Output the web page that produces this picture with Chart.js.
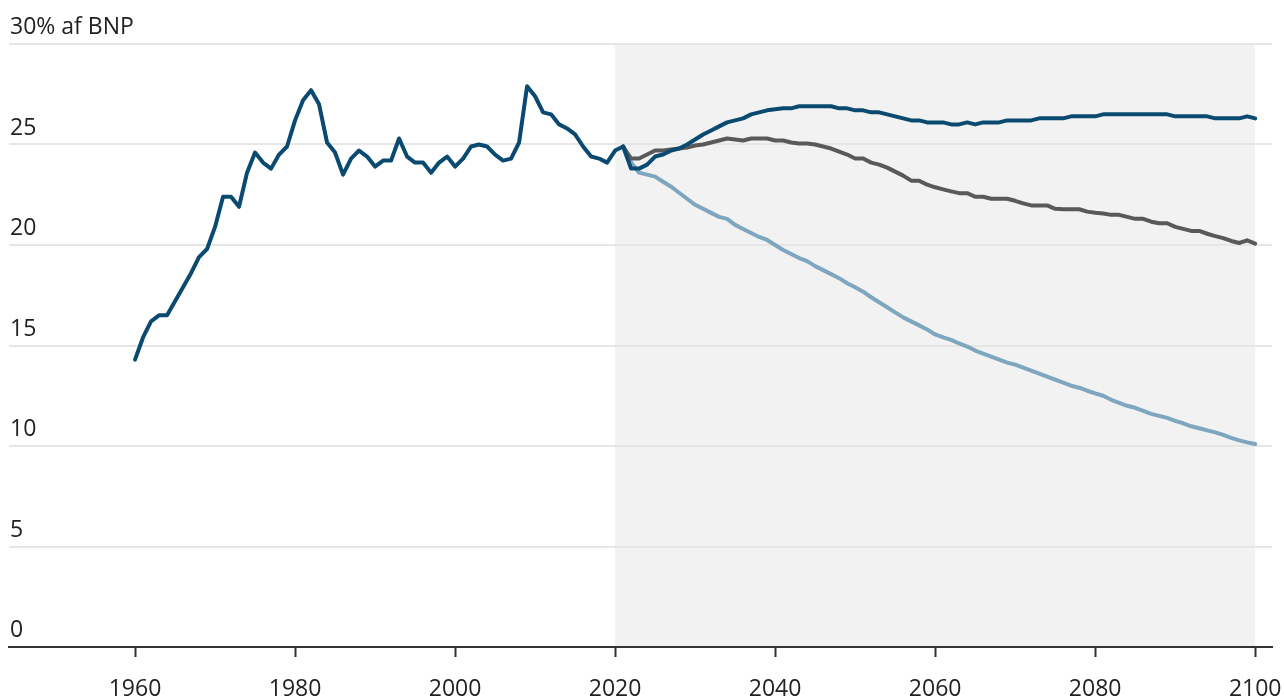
<!DOCTYPE html>
<html lang="da">
<head>
<meta charset="utf-8">
<title>Udgifter i % af BNP</title>
<script src="https://cdn.jsdelivr.net/npm/chart.js@4.4.1/dist/chart.umd.min.js"></script>
<style>
  html, body { margin: 0; padding: 0; background: #ffffff; }
  #wrap { width: 1284px; height: 700px; position: relative; }
</style>
</head>
<body>
<div id="wrap"><canvas id="c" width="1284" height="700"></canvas></div>
<script>
// Historisk serie, 1960-2021 (% af BNP)
const histStart = 1960;
const histValues = [
  14.3, 15.4, 16.2, 16.5, 16.5, 17.2, 17.9, 18.6, 19.4, 19.8,
  20.9, 22.4, 22.4, 21.9, 23.6, 24.6, 24.1, 23.8, 24.5, 24.9,
  26.2, 27.2, 27.7, 27.0, 25.1, 24.6, 23.5, 24.3, 24.7, 24.4,
  23.9, 24.2, 24.2, 25.3, 24.4, 24.1, 24.1, 23.6, 24.1, 24.4,
  23.9, 24.3, 24.9, 25.0, 24.9, 24.5, 24.2, 24.3, 25.1, 27.9,
  27.4, 26.6, 26.5, 26.0, 25.8, 25.5, 24.9, 24.4, 24.3, 24.1,
  24.7, 24.9
];

// Fremskrivninger, 2022-2100
const projStart = 2022;
const projHigh = [
  23.8, 23.8, 24.0, 24.4, 24.5, 24.7, 24.8, 25.0, 25.25, 25.5,
  25.7, 25.9, 26.1, 26.2, 26.3, 26.5, 26.6, 26.7, 26.75, 26.8,
  26.8, 26.9, 26.9, 26.9, 26.9, 26.9, 26.8, 26.8, 26.7, 26.7,
  26.6, 26.6, 26.5, 26.4, 26.3, 26.2, 26.2, 26.1, 26.1, 26.1,
  26.0, 26.0, 26.1, 26.0, 26.1, 26.1, 26.1, 26.2, 26.2, 26.2,
  26.2, 26.3, 26.3, 26.3, 26.3, 26.4, 26.4, 26.4, 26.4, 26.5,
  26.5, 26.5, 26.5, 26.5, 26.5, 26.5, 26.5, 26.5, 26.4, 26.4,
  26.4, 26.4, 26.4, 26.3, 26.3, 26.3, 26.3, 26.4, 26.3
];
const projMid = [
  24.3, 24.3, 24.5, 24.7, 24.7, 24.75, 24.8, 24.85, 24.95, 25.0,
  25.1, 25.2, 25.3, 25.25, 25.2, 25.3, 25.3, 25.3, 25.2, 25.2,
  25.1, 25.05, 25.05, 25.0, 24.9, 24.8, 24.65, 24.5, 24.3, 24.3,
  24.1, 24.0, 23.85, 23.65, 23.45, 23.2, 23.2, 23.0, 22.87, 22.77,
  22.67, 22.58, 22.58, 22.4, 22.4, 22.3, 22.3, 22.3, 22.2, 22.07,
  21.97, 21.97, 21.97, 21.8, 21.78, 21.78, 21.78, 21.66, 21.6, 21.57,
  21.5, 21.5, 21.4, 21.3, 21.3, 21.16, 21.08, 21.08, 20.9, 20.8,
  20.7, 20.7, 20.56, 20.44, 20.34, 20.2, 20.1, 20.23, 20.07
];
const projLow = [
  24.1, 23.6, 23.5, 23.4, 23.15, 22.9, 22.6, 22.3, 22.0, 21.8,
  21.6, 21.4, 21.3, 21.0, 20.8, 20.6, 20.4, 20.25, 20.0, 19.75,
  19.55, 19.35, 19.2, 18.95, 18.75, 18.55, 18.35, 18.1, 17.9, 17.68,
  17.4, 17.15, 16.9, 16.65, 16.4, 16.2, 16.0, 15.8, 15.55, 15.4,
  15.28, 15.1, 14.95, 14.75, 14.6, 14.45, 14.3, 14.15, 14.05, 13.9,
  13.75, 13.6, 13.45, 13.3, 13.15, 13.0, 12.9, 12.75, 12.62, 12.5,
  12.3, 12.15, 12.0, 11.9, 11.75, 11.6, 11.5, 11.4, 11.25, 11.13,
  10.98, 10.88, 10.78, 10.68, 10.55, 10.4, 10.28, 10.18, 10.1
];

// Akser
const xTicks = [1960, 1980, 2000, 2020, 2040, 2060, 2080, 2100];
const yTicks = [0, 5, 10, 15, 20, 25, 30];
const yTopLabel = "30% af BNP";
const shadeFrom = 2020;
const shadeTo = 2100;

const FONT = "'Open Sans', 'Noto Sans', 'DejaVu Sans', sans-serif";
const C_DARK = "#0b4a70";
const C_GREY = "#595959";
const C_LIGHT = "#7ea6bf";

function toPoints(start, values) {
  return values.map((v, i) => ({ x: start + i, y: v }));
}
const lastHist = { x: histStart + histValues.length - 1, y: histValues[histValues.length - 1] };
const histPts = toPoints(histStart, histValues);
const highPts = [lastHist].concat(toPoints(projStart, projHigh));
const midPts = [lastHist].concat(toPoints(projStart, projMid));
const lowPts = [lastHist].concat(toPoints(projStart, projLow));

// Grå baggrund for fremskrivningsperioden
const shadePlugin = {
  id: 'shade',
  beforeDraw(chart) {
    const { ctx, scales: { x, y } } = chart;
    const x0 = x.getPixelForValue(shadeFrom);
    const x1 = x.getPixelForValue(shadeTo);
    const y0 = y.getPixelForValue(30);
    const y1 = y.getPixelForValue(0);
    ctx.save();
    ctx.fillStyle = '#f2f2f2';
    ctx.fillRect(x0, y0, x1 - x0, y1 - y0);
    ctx.restore();
  }
};

// Etiketter: værdier over gitterlinjerne og årstal under x-aksen
const labelPlugin = {
  id: 'axisLabels',
  afterDraw(chart) {
    const { ctx, chartArea, scales: { x, y } } = chart;
    ctx.save();
    ctx.font = "23px " + FONT;
    ctx.fillStyle = '#222222';
    ctx.textAlign = 'left';
    ctx.textBaseline = 'alphabetic';
    yTicks.forEach(v => {
      const py = y.getPixelForValue(v);
      const txt = v === 30 ? yTopLabel : String(v);
      ctx.fillText(txt, chartArea.left + 1, py - 10);
    });
    ctx.textAlign = 'center';
    ctx.textBaseline = 'middle';
    xTicks.forEach(v => {
      ctx.fillText(String(v), x.getPixelForValue(v), chartArea.bottom + 42);
    });
    ctx.restore();
  }
};

const lineStyle = {
  borderWidth: 4,
  pointRadius: 0,
  pointHoverRadius: 0,
  tension: 0,
  fill: false,
  borderJoinStyle: 'round',
  borderCapStyle: 'round'
};

new Chart(document.getElementById('c'), {
  type: 'line',
  data: {
    datasets: [
      Object.assign({ label: 'Lav', data: lowPts, borderColor: C_LIGHT, order: 3 }, lineStyle),
      Object.assign({ label: 'Mellem', data: midPts, borderColor: C_GREY, order: 2 }, lineStyle),
      Object.assign({ label: 'Høj', data: highPts, borderColor: C_DARK, order: 1 }, lineStyle),
      Object.assign({ label: 'Historisk', data: histPts, borderColor: C_DARK, order: 0 }, lineStyle)
    ]
  },
  options: {
    responsive: false,
    animation: false,
    events: [],
    layout: { padding: { left: 9, right: 12, top: 44, bottom: 43 } },
    plugins: {
      legend: { display: false },
      tooltip: { enabled: false }
    },
    scales: {
      x: {
        type: 'linear',
        min: 1944.25,
        max: 2102.1,
        afterBuildTicks(scale) {
          scale.ticks = xTicks.map(v => ({ value: v }));
        },
        ticks: { display: false },
        grid: {
          drawOnChartArea: false,
          drawTicks: true,
          tickLength: 10,
          tickWidth: 2,
          tickColor: '#333333'
        },
        border: { display: true, color: '#333333', width: 2 }
      },
      y: {
        min: 0,
        max: 30,
        afterBuildTicks(scale) {
          scale.ticks = yTicks.map(v => ({ value: v }));
        },
        ticks: { display: false },
        grid: {
          drawTicks: false,
          color: '#e6e6e6',
          lineWidth: 2
        },
        border: { display: false }
      }
    }
  },
  plugins: [shadePlugin, labelPlugin]
});
</script>
</body>
</html>
